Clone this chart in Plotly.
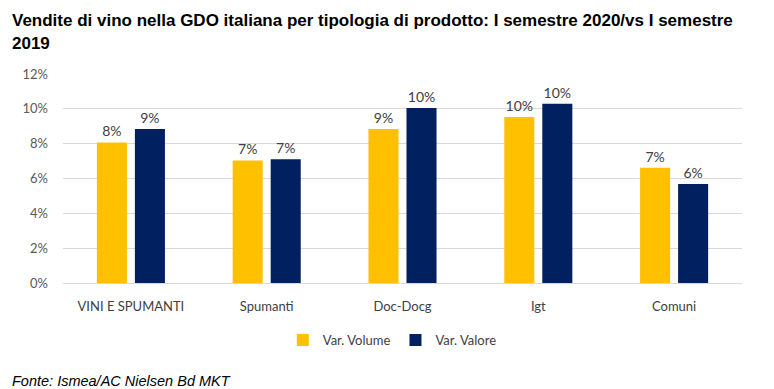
import plotly.graph_objects as go

categories = ["VINI E SPUMANTI", "Spumanti", "Doc-Docg", "Igt", "Comuni"]
var_volume = [0.0807, 0.0704, 0.0884, 0.0953, 0.0662]
var_valore = [0.0884, 0.0710, 0.1005, 0.1029, 0.0568]
series_names = ["Var. Volume", "Var. Valore"]
y_ticks = [0, 0.02, 0.04, 0.06, 0.08, 0.10, 0.12]

title_line1 = "Vendite di vino nella GDO italiana per tipologia di prodotto: I semestre 2020/vs I semestre"
title_line2 = "2019"
source_text = "Fonte: Ismea/AC Nielsen Bd MKT"

colors = ["#FFC000", "#002060"]
base_font = "Lato, Carlito, 'Liberation Sans', sans-serif"
title_font = "'Liberation Sans', Arial, sans-serif"

# page body has an 8px margin: figure is placed at (8, 8)
W, H = 766, 381
L, R, T, B = 55, 32, 66, 106
plot_h = H - T - B
plot_w = W - L - R

def px_x(px):
    return (px - L) / plot_w

def px_y(py):
    return 1 + (T - py) / plot_h

fig = go.Figure()
for name, vals, col in zip(series_names, [var_volume, var_valore], colors):
    fig.add_trace(go.Bar(
        x=categories, y=vals, name=name, marker_color=col,
        marker_line_width=0,
        texttemplate="%{y:.0%}", textposition="outside",
        textfont=dict(family=base_font, size=14, color="#404040"),
        cliponaxis=False,
    ))

fig.update_layout(
    width=W, height=H,
    margin=dict(l=L, r=R, t=T, b=B),
    paper_bgcolor="white", plot_bgcolor="white",
    barmode="group", bargap=0.44, bargroupgap=0.21,
    legend=dict(orientation="h", x=0.485, xanchor="center", y=px_y(332), yanchor="middle",
                font=dict(family=base_font, size=13, color="#404040"),
                itemwidth=30, traceorder="normal"),
    showlegend=True,
)
fig.update_yaxes(range=[0, 0.12], tickvals=y_ticks, tickformat=".0%",
                 showgrid=True, gridcolor="#D9D9D9", gridwidth=1,
                 zeroline=True, zerolinecolor="#D9D9D9", zerolinewidth=1,
                 showline=False, ticks="", ticklabelstandoff=14,
                 tickfont=dict(family=base_font, size=13, color="#595959"))
fig.update_xaxes(showline=False, ticks="", ticklabelstandoff=14,
                 tickfont=dict(family=base_font, size=13, color="#404040"))

for txt, py in [(title_line1, 12), (title_line2, 35)]:
    fig.add_annotation(text="<b>" + txt + "</b>", xref="paper", yref="paper",
                       x=px_x(2), xanchor="left", y=px_y(py), yanchor="middle",
                       showarrow=False,
                       font=dict(family=title_font, size=17, color="#000000"))

fig.add_annotation(text="<i>" + source_text + "</i>", xref="paper", yref="paper",
                   x=px_x(2), xanchor="left", y=px_y(373), yanchor="middle",
                   showarrow=False,
                   font=dict(family=title_font, size=14.5, color="#000000"))

fig.write_html("out.html")
